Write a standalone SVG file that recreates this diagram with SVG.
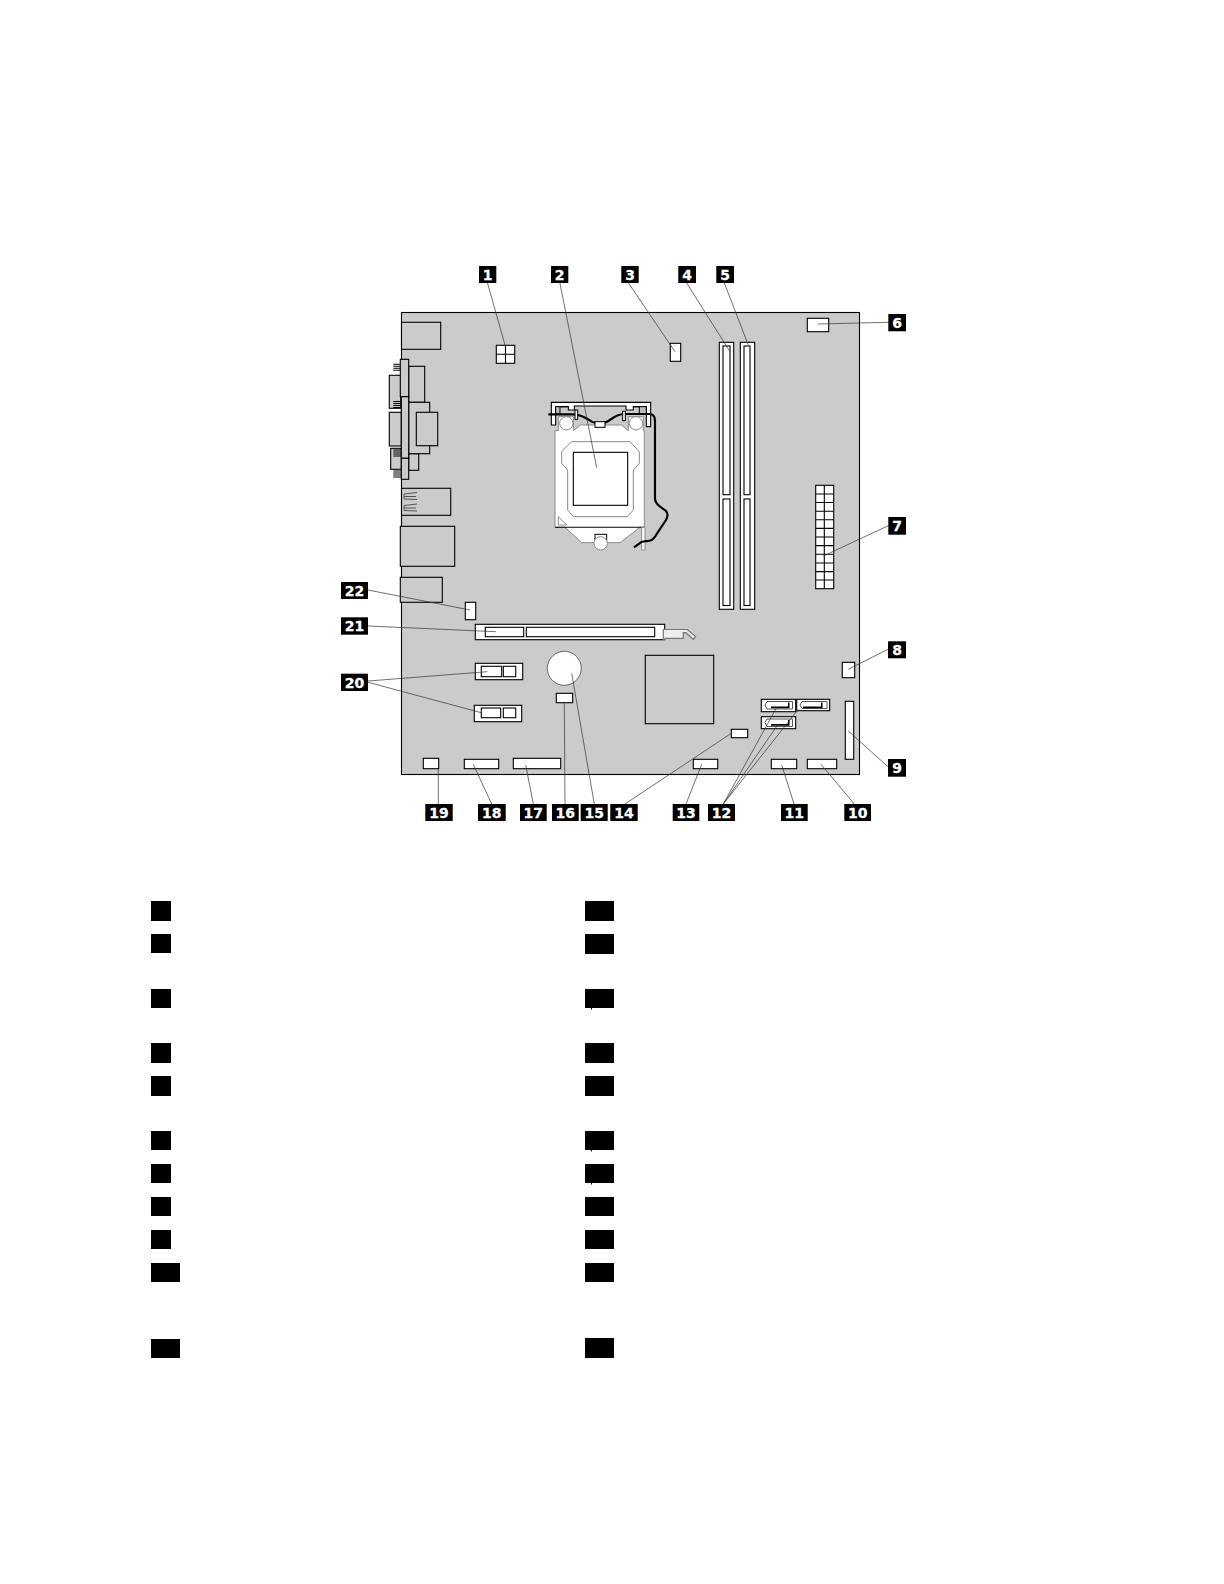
<svg xmlns="http://www.w3.org/2000/svg" width="1224" height="1584" viewBox="0 0 1224 1584">
<style>
.b{fill:#cbcbcb;stroke:#000;stroke-width:1.1}
.w{fill:#fff;stroke:#000;stroke-width:1.1}
.p{fill:none;stroke:#000;stroke-width:1.1}
.k{fill:#000}
.l{fill:none;stroke:#333;stroke-width:.7}
.t{font-family:"DejaVu Sans","Liberation Sans",sans-serif;font-weight:700;font-size:14px;fill:#fff;stroke:#fff;stroke-width:.3;text-anchor:middle}
.s{fill:none;stroke:#555;stroke-width:1}
</style>
<rect width="1224" height="1584" fill="#fff"/>
<g id="board">
<rect class="b" x="401.5" y="312.5" width="458" height="462"/>
<rect class="b" x="401.5" y="322.3" width="39.2" height="27"/>
<rect class="b" x="389.3" y="375.3" width="11.4" height="33"/>
<rect class="b" x="389.3" y="412.3" width="12" height="33.7"/>
<rect class="b" x="390.7" y="448.3" width="10.6" height="21"/>
<path class="p" d="M393.3 364.3h7M393.3 366.3h7M393.3 368.3h7M393.3 370.3h7M393.3 401.5h7M393.3 403.5h7M393.3 405.5h7M393.3 407.5h7M393.3 450h8M393.3 452h8M393.3 454h8M393.3 456h8M393.3 471h8M393.3 473h8M393.3 475h8M393.3 477h8" stroke-width=".8"/>
<rect class="b" x="408.7" y="366.3" width="16" height="36"/>
<rect class="b" x="408.7" y="453.7" width="10" height="16.6"/>
<rect class="b" x="408.7" y="402.3" width="21" height="51.4"/>
<rect class="b" x="416.3" y="412.3" width="21.4" height="33.4"/>
<rect class="b" x="400.3" y="359.3" width="8.4" height="37.4"/>
<rect class="b" x="401.3" y="396.7" width="7.4" height="61.6"/>
<rect class="b" x="401.3" y="458.3" width="7.4" height="21"/>
<rect class="b" x="401.5" y="488.3" width="49.2" height="27"/>
<path class="s" d="M417 492.5l-13 1.5v5l13 .5M404 496.5h12M417 504l-13 1.5v5l13 .5M404 508h12"/>
<rect class="b" x="400.3" y="526.3" width="54.4" height="40"/>
<rect class="b" x="400.3" y="577.3" width="42" height="25"/>
</g>
<g id="cpu-socket" transform="translate(540 390) scale(.3333)">
<path fill="#fff" stroke="#000" stroke-width="3.3" d="M34 37H332V110H319V50H280V60H258V48H103V60H85V50H47V105H34Z"/>
<path fill="#bbb" stroke="#000" stroke-width="3" d="M47 50H60V72H47ZM298 50H319V72H298Z"/>
<path fill="none" stroke="#000" stroke-width="4" d="M60 50H82M280 50H298"/>
<path fill="#fff" stroke="#8a8a8a" stroke-width="3" d="M45 122H55V80H100V122L122 105H245L265 122V80H310V122H313V412H300L240 458H125L75 412H45Z"/>
<circle cx="79" cy="100" r="20" fill="#fff" stroke="#8a8a8a" stroke-width="3"/>
<circle cx="288" cy="100" r="20" fill="#fff" stroke="#8a8a8a" stroke-width="3"/>
<path fill="#fff" stroke="#8a8a8a" stroke-width="3" d="M95 155H270L298 185V220L280 240V360L262 380H100L83 360V240L65 220V185Z"/>
<rect x="100" y="187" width="163" height="159" fill="#fff" stroke="#000" stroke-width="3.3"/>
<path fill="#fff" stroke="#8a8a8a" stroke-width="3" d="M55 380V405H80Z"/>
<path fill="none" stroke="#000" stroke-width="3.3" d="M45 412H313"/>
<rect x="165" y="433" width="35" height="20" fill="#fff" stroke="#000" stroke-width="3"/>
<circle cx="182" cy="460" r="20" fill="#fff" stroke="#8a8a8a" stroke-width="3"/>
<path fill="#fff" stroke="#8a8a8a" stroke-width="3" d="M305 412H315V480H305Z"/>
<path fill="none" stroke="#000" stroke-width="6.500" stroke-linejoin="round" d="M25 73H100C125 73 140 85 155 95C170 103 190 103 205 93C225 80 235 72 255 72H328Q345 72 345 92V325Q345 338 358 348L378 363Q387 373 378 390L345 440Q335 455 318 453L305 456L282 472"/>
<rect x="105" y="60" width="8" height="28" fill="#fff" stroke="#000" stroke-width="3"/>
<rect x="248" y="64" width="8" height="28" fill="#fff" stroke="#000" stroke-width="3"/>
<rect x="165" y="95" width="30" height="17" fill="#fff" stroke="#000" stroke-width="3"/>
</g>
<g id="conn-power-4"><rect class="w" x="496.3" y="345.3" width="18.4" height="18"/><path class="p" d="M505.5 345.3v18M496.3 354.3h18.4"/></g>
<g id="conn-fan-top"><rect class="w" x="670.3" y="343.3" width="10.4" height="18"/></g>
<g id="dimm-1"><rect class="w" x="719.3" y="342.3" width="14.4" height="267"/><rect class="w" x="723" y="346" width="7" height="148.7"/><rect class="w" x="723" y="499" width="7" height="106.5"/></g>
<g id="dimm-2"><rect class="w" x="740.3" y="342.3" width="14.4" height="267"/><rect class="w" x="744" y="346" width="6" height="148.7"/><rect class="w" x="744" y="499" width="6" height="106.5"/></g>
<g id="conn-6"><rect class="w" x="807.3" y="318.3" width="21.4" height="13.4"/></g>
<g id="conn-power-24"><rect class="w" x="815.7" y="485.3" width="18" height="103.4"/><path class="p" d="M824.3 485.3v103.4M815.7 494h18M815.7 502.5h18M815.7 511.2h18M815.7 519.8h18M815.7 528.4h18M815.7 537h18M815.7 545.6h18M815.7 554.3h18M815.7 563h18M815.7 571.6h18M815.7 580h18"/></g>
<g id="conn-8"><rect class="w" x="842.3" y="662.3" width="12.4" height="15.4"/></g>
<g id="conn-9"><rect class="w" x="845.3" y="701.3" width="8.4" height="58"/></g>
<g id="conn-10"><rect class="w" x="807.3" y="759.3" width="29.4" height="9.4"/></g>
<g id="conn-11"><rect class="w" x="771.3" y="759.3" width="25.4" height="9.4"/></g>
<g id="conn-13"><rect class="w" x="693.3" y="759.3" width="24.4" height="9.4"/></g>
<g id="conn-14"><rect class="w" x="731.3" y="729.3" width="16.4" height="8.4"/></g>
<g id="sata-1"><rect class="w" x="761.3" y="699.3" width="34.4" height="12.4"/><path class="s" d="M765 705l2-3.500h25.500v7.500h-25.500z"/><path class="k" d="M771 706.500h17v-4h1.500v5.800h-18.500z"/></g>
<g id="sata-2"><rect class="w" x="796.7" y="699.3" width="33" height="11.400"/><path class="s" d="M800 705l2-3.500h25v7h-25z"/><path class="k" d="M803 706.500h18v-4h1.500v5.800h-19.500z"/></g>
<g id="sata-3"><rect class="w" x="761.3" y="716.700" width="34.400" height="12"/><path class="s" d="M765 722.500l2-3.500h25.500v7.500h-25.500z"/><path class="k" d="M771 724h17v-4h1.500v5.800h-18.500z"/></g>
<g id="chipset"><rect class="b" x="645.300" y="655.300" width="68.400" height="68.400"/></g>
<g id="conn-22"><rect class="w" x="465.300" y="602.300" width="10.400" height="17.400"/></g>
<g id="pcie-x16"><rect class="w" x="475.300" y="624.300" width="189.400" height="15.400"/><rect class="w" x="485.300" y="627.300" width="38.400" height="9.400"/><rect class="w" x="526.300" y="627.300" width="128.400" height="9.400"/>
<path fill="#eee" stroke="#777" stroke-width="1.200" d="M663.300 629.500H687.300L695.700 636.700L693.300 639.300L686 632.700H683.300V638.300H665V639.300H663.300Z"/></g>
<g id="pcie-x1-1"><rect class="w" x="475.300" y="663.300" width="47.400" height="16.400"/><rect class="w" x="481.300" y="666.300" width="20.400" height="10.400"/><rect class="w" x="503.300" y="666.300" width="12.400" height="10.400"/></g>
<g id="pcie-x1-2"><rect class="w" x="474.300" y="705.300" width="47.400" height="16.400"/><rect class="w" x="481.300" y="708" width="19.400" height="9.700"/><rect class="w" x="503.300" y="708" width="12.400" height="9.700"/></g>
<g id="battery"><circle cx="564.300" cy="668.300" r="17" fill="#fff" stroke="#666" stroke-width="1"/></g>
<g id="conn-16"><rect class="w" x="556.300" y="693.300" width="16.400" height="9.400"/></g>
<g id="conn-17"><rect class="w" x="513.300" y="758.300" width="47.400" height="10.400"/></g>
<g id="conn-18"><rect class="w" x="464.300" y="759.300" width="34.400" height="9.400"/></g>
<g id="conn-19"><rect class="w" x="423.300" y="758.300" width="15.400" height="10.400"/></g>
<g id="connectors">
<path class="l" d="M487.500 283L505 345M559.900 283L596.700 467.700M628.500 283L675 351.700M686.700 283L729.300 350.700M724.300 283L748.300 345M888.300 322.300L817.700 324M888.300 525.700L823.300 556M888 649.300L848.300 669.300M888 766.700L848.300 731M854.300 804L821 764.300M794 804L781.700 765M723.300 804L776.700 707.300M723.300 804L778.300 724M723.300 804L798.300 709.300M686 804L701.700 764.300M625 804L731.300 733.300M594.300 804L571.700 673.300M565 804L564.300 702.700M533.300 804L525.700 765M491.700 804L473.300 764.300M438.300 804V768.700M368 681L487.300 671.700M368 682.300L481.300 712.700M368 626L496 631.700M368 590L470 610"/>
</g>
<g id="label-1"><rect class="k" x="479" y="266" width="17.300" height="17"/><text class="t" x="487.700" y="280">1</text></g>
<g id="label-2"><rect class="k" x="551" y="266" width="17.300" height="17"/><text class="t" x="559.700" y="280">2</text></g>
<g id="label-3"><rect class="k" x="621.300" y="266" width="17.400" height="17"/><text class="t" x="630" y="280">3</text></g>
<g id="label-4"><rect class="k" x="678.300" y="266" width="17.700" height="17"/><text class="t" x="687.200" y="280">4</text></g>
<g id="label-5"><rect class="k" x="716.300" y="266" width="17.700" height="17"/><text class="t" x="725.200" y="280">5</text></g>
<g id="label-6"><rect class="k" x="888.300" y="314" width="17.700" height="17.300"/><text class="t" x="897.200" y="328">6</text></g>
<g id="label-7"><rect class="k" x="888.300" y="517" width="17.700" height="17.700"/><text class="t" x="897.200" y="531">7</text></g>
<g id="label-8"><rect class="k" x="888" y="641.300" width="18" height="17"/><text class="t" x="897" y="655.300">8</text></g>
<g id="label-9"><rect class="k" x="888" y="759" width="18" height="17.700"/><text class="t" x="897" y="773">9</text></g>
<g id="label-10"><rect class="k" x="844.300" y="804" width="26.700" height="17"/><text class="t" x="857.700" y="818">10</text></g>
<g id="label-11"><rect class="k" x="781" y="804" width="26.700" height="17"/><text class="t" x="794.300" y="818">11</text></g>
<g id="label-12"><rect class="k" x="708" y="804" width="27" height="17"/><text class="t" x="721.500" y="818">12</text></g>
<g id="label-13"><rect class="k" x="672.700" y="804" width="26.600" height="17"/><text class="t" x="686" y="818">13</text></g>
<g id="label-14"><rect class="k" x="610.300" y="804" width="27.400" height="17"/><text class="t" x="624" y="818">14</text></g>
<g id="label-15"><rect class="k" x="580.700" y="804" width="27" height="17"/><text class="t" x="594.200" y="818">15</text></g>
<g id="label-16"><rect class="k" x="552" y="804" width="26.700" height="17"/><text class="t" x="565.300" y="818">16</text></g>
<g id="label-17"><rect class="k" x="520" y="804" width="26.700" height="17"/><text class="t" x="533.300" y="818">17</text></g>
<g id="label-18"><rect class="k" x="478" y="804" width="27.700" height="17"/><text class="t" x="491.800" y="818">18</text></g>
<g id="label-19"><rect class="k" x="425.300" y="804" width="27.400" height="17"/><text class="t" x="439" y="818">19</text></g>
<g id="label-20"><rect class="k" x="341" y="673.700" width="27" height="17.300"/><text class="t" x="354.500" y="687.700">20</text></g>
<g id="label-21"><rect class="k" x="341" y="617.300" width="27" height="17.400"/><text class="t" x="354.500" y="631.300">21</text></g>
<g id="label-22"><rect class="k" x="341" y="582" width="27" height="17"/><text class="t" x="354.500" y="596">22</text></g>
<g id="legend" class="k">
<rect x="151" y="901" width="20" height="20"/><rect x="151" y="934" width="20" height="19"/><rect x="151" y="989" width="20" height="19"/><rect x="151" y="1043" width="20" height="20"/><rect x="151" y="1076" width="20" height="20"/><rect x="151" y="1131" width="20" height="19"/><rect x="151" y="1164" width="20" height="19"/><rect x="151" y="1197" width="20" height="19"/><rect x="151" y="1230" width="20" height="19"/><rect x="151" y="1263" width="29" height="19"/><rect x="151" y="1339" width="29" height="19"/>
<rect x="585" y="901" width="29" height="20"/><rect x="585" y="934" width="29" height="20"/><rect x="585" y="989" width="29" height="19"/><rect x="585" y="1043" width="29" height="20"/><rect x="585" y="1076" width="29" height="20"/><rect x="585" y="1131" width="29" height="19"/><rect x="585" y="1164" width="29" height="19"/><rect x="585" y="1197" width="29" height="19"/><rect x="585" y="1230" width="29" height="19"/><rect x="585" y="1263" width="29" height="19"/><rect x="585" y="1338" width="29" height="20"/>
<rect x="591" y="1008" width="1" height="1.500"/><rect x="591" y="1150" width="1" height="1.500"/><rect x="591" y="1183" width="1" height="1.500"/>
</g>
</svg>
